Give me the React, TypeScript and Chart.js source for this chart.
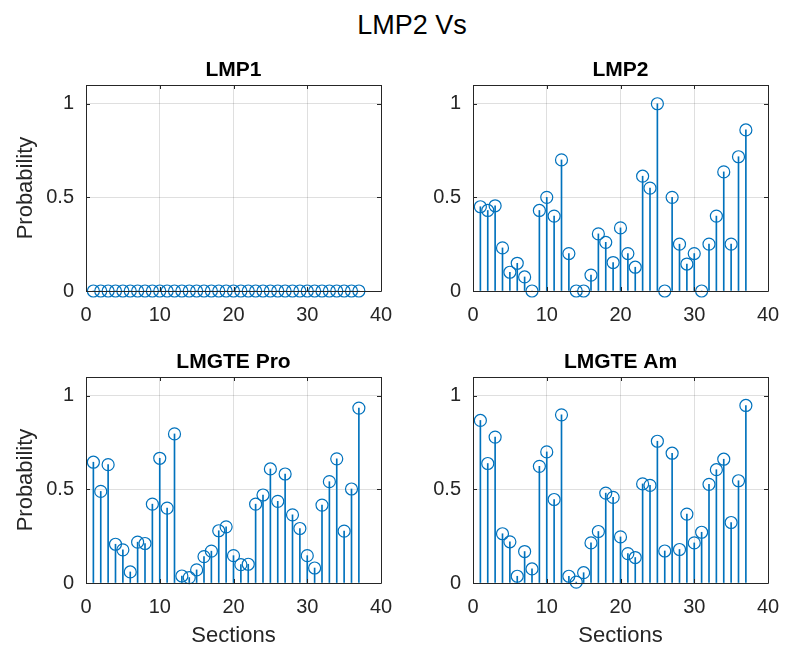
import React, { useEffect, useRef } from 'react';
import { Chart, registerables } from 'chart.js';

Chart.register(...registerables);

// ---------------- data ----------------
const sections = [1, 2, 3, 4, 5, 6, 7, 8, 9, 10, 11, 12, 13, 14, 15, 16, 17, 18, 19, 20, 21, 22, 23, 24, 25, 26, 27, 28, 29, 30, 31, 32, 33, 34, 35, 36, 37];

const lmp1 = [0, 0, 0, 0, 0, 0, 0, 0, 0, 0, 0, 0, 0, 0, 0, 0, 0, 0, 0, 0, 0, 0, 0, 0, 0, 0, 0, 0, 0, 0, 0, 0, 0, 0, 0, 0, 0];

const lmp2 = [0.45, 0.43, 0.455, 0.23, 0.10, 0.148, 0.075, 0.0, 0.43, 0.50, 0.40, 0.70, 0.20, 0.0, 0.0, 0.085, 0.305, 0.26, 0.152, 0.337, 0.20, 0.127, 0.613, 0.549, 1.0, 0.0, 0.50, 0.25, 0.144, 0.20, 0.0, 0.25, 0.40, 0.636, 0.25, 0.717, 0.86];

const lmgtePro = [0.645, 0.489, 0.632, 0.207, 0.177, 0.059, 0.218, 0.211, 0.421, 0.666, 0.40, 0.796, 0.0375, 0.029, 0.07, 0.141, 0.17, 0.279, 0.30, 0.146, 0.098, 0.10, 0.421, 0.47, 0.609, 0.436, 0.582, 0.364, 0.291, 0.146, 0.08, 0.416, 0.541, 0.663, 0.277, 0.502, 0.934];

const lmgteAm = [0.868, 0.638, 0.779, 0.263, 0.22, 0.036, 0.168, 0.075, 0.623, 0.70, 0.446, 0.898, 0.036, 0.005, 0.055, 0.214, 0.275, 0.48, 0.457, 0.246, 0.157, 0.136, 0.529, 0.521, 0.757, 0.171, 0.693, 0.179, 0.368, 0.214, 0.271, 0.527, 0.605, 0.661, 0.323, 0.546, 0.948];

const xTickValues = [0, 10, 20, 30, 40];
const yTickValues = [0, 0.5, 1];
const xRange = [0, 40];
const yRange = [0, 1.1];

const figureTitle = 'LMP2 Vs';
const xAxisLabel = 'Sections';
const yAxisLabel = 'Probability';

// ---------------- style ----------------
const STEM = '#0072BD';
const AXIS = '#262626';
const GRID = 'rgba(38,38,38,0.15)';
const FONT = '"Liberation Sans", Arial, Helvetica, sans-serif';

type Panel = {
  title: string;
  values: number[];
  box: { left: number; top: number; right: number; bottom: number };
  yLabel: boolean;
  xLabel: boolean;
};

const panels: Panel[] = [
  { title: 'LMP1', values: lmp1, box: { left: 86, top: 85, right: 381, bottom: 291 }, yLabel: true, xLabel: false },
  { title: 'LMP2', values: lmp2, box: { left: 473, top: 85, right: 768, bottom: 291 }, yLabel: false, xLabel: false },
  { title: 'LMGTE Pro', values: lmgtePro, box: { left: 86, top: 377, right: 381, bottom: 583 }, yLabel: true, xLabel: true },
  { title: 'LMGTE Am', values: lmgteAm, box: { left: 473, top: 377, right: 768, bottom: 583 }, yLabel: false, xLabel: true },
];

const TOP_PAD = 45;
const RIGHT_PAD = 24;

function PanelChart({ panel }: { panel: Panel }) {
  const ref = useRef<HTMLCanvasElement | null>(null);
  const yAxisW = panel.yLabel ? 86 : 60;
  const xAxisH = panel.xLabel ? 66 : 40;
  const boxW = panel.box.right - panel.box.left;
  const boxH = panel.box.bottom - panel.box.top;
  const cLeft = panel.box.left - yAxisW;
  const cTop = panel.box.top - TOP_PAD;
  const cW = yAxisW + boxW + RIGHT_PAD;
  const cH = TOP_PAD + boxH + xAxisH;

  useEffect(() => {
    if (!ref.current) return;
    const pts = sections.map((s, i) => ({ x: s, y: panel.values[i] }));

    const boxPlugin = {
      id: 'matlabBox',
      afterDatasetsDraw(chart: any) {
        const { ctx, chartArea: a, scales } = chart;
        ctx.save();
        ctx.strokeStyle = AXIS;
        ctx.lineWidth = 1;
        ctx.beginPath();
        ctx.rect(Math.round(a.left) + 0.5, Math.round(a.top) + 0.5, Math.round(a.right - a.left), Math.round(a.bottom - a.top));
        ctx.stroke();
        const tl = 4;
        ctx.beginPath();
        for (const v of xTickValues) {
          const px = Math.round(scales.x.getPixelForValue(v)) + 0.5;
          ctx.moveTo(px, a.bottom);
          ctx.lineTo(px, a.bottom - tl);
          ctx.moveTo(px, a.top);
          ctx.lineTo(px, a.top + tl);
        }
        for (const v of yTickValues) {
          const py = Math.round(scales.y.getPixelForValue(v)) + 0.5;
          ctx.moveTo(a.left, py);
          ctx.lineTo(a.left + tl, py);
          ctx.moveTo(a.right, py);
          ctx.lineTo(a.right - tl, py);
        }
        ctx.stroke();
        ctx.restore();
      },
      afterDraw(chart: any) {
        const { ctx, chartArea: a } = chart;
        ctx.save();
        ctx.fillStyle = '#000';
        ctx.font = 'bold 21px ' + FONT;
        ctx.textAlign = 'center';
        ctx.textBaseline = 'alphabetic';
        ctx.fillText(panel.title, (a.left + a.right) / 2, a.top - 9);
        ctx.restore();
      },
    };

    const chart = new Chart(ref.current, {
      type: 'bar',
      data: {
        datasets: [
          {
            type: 'line',
            data: pts,
            showLine: false,
            pointStyle: 'circle',
            pointRadius: 6,
            pointBorderWidth: 1.2,
            pointBorderColor: STEM,
            pointBackgroundColor: 'rgba(0,0,0,0)',
            borderColor: STEM,
            backgroundColor: 'rgba(0,0,0,0)',
            clip: false,
            order: 0,
          } as any,
          {
            type: 'bar',
            data: pts,
            backgroundColor: STEM,
            borderWidth: 0,
            barThickness: 1,
            order: 1,
          } as any,
        ],
      },
      options: {
        animation: false,
        responsive: false,
        maintainAspectRatio: false,
        devicePixelRatio: 1,
        events: [],
        layout: { padding: { left: 0, top: TOP_PAD, right: RIGHT_PAD, bottom: 0 } },
        plugins: { legend: { display: false }, tooltip: { enabled: false }, title: { display: false } },
        scales: {
          x: {
            type: 'linear',
            min: xRange[0],
            max: xRange[1],
            offset: false,
            afterBuildTicks: (s: any) => {
              s.ticks = xTickValues.map((v) => ({ value: v }));
            },
            afterFit: (s: any) => {
              s.height = xAxisH;
            },
            ticks: {
              padding: 12,
              color: AXIS,
              font: { family: FONT, size: 20 },
              maxRotation: 0,
              callback: (v: any) => String(v),
            },
            grid: { color: GRID, drawTicks: false, lineWidth: 1, offset: false },
            border: { display: false },
            title: {
              display: panel.xLabel,
              text: xAxisLabel,
              color: AXIS,
              font: { family: FONT, size: 22 },
              padding: { top: 0, bottom: 0 },
            },
          },
          y: {
            type: 'linear',
            min: yRange[0],
            max: yRange[1],
            afterBuildTicks: (s: any) => {
              s.ticks = yTickValues.map((v) => ({ value: v }));
            },
            afterFit: (s: any) => {
              s.width = yAxisW;
            },
            ticks: {
              padding: 12,
              color: AXIS,
              font: { family: FONT, size: 20 },
              callback: (v: any) => String(v),
            },
            grid: { color: GRID, drawTicks: false, lineWidth: 1 },
            border: { display: false },
            title: {
              display: panel.yLabel,
              text: yAxisLabel,
              color: AXIS,
              font: { family: FONT, size: 22 },
              padding: { top: 13, bottom: 0 },
            },
          },
        },
      } as any,
      plugins: [boxPlugin],
    });
    return () => chart.destroy();
  }, []);

  return (
    <canvas
      ref={ref}
      width={cW}
      height={cH}
      style={{ position: 'absolute', left: cLeft, top: cTop, width: cW, height: cH, display: 'block' }}
    />
  );
}

export default function App() {
  return (
    <div
      style={{
        position: 'fixed',
        left: 0,
        top: 0,
        width: 790,
        height: 659,
        background: '#fff',
        overflow: 'hidden',
      }}
    >
      <div
        style={{
          position: 'absolute',
          left: 262,
          top: 12,
          width: 300,
          textAlign: 'center',
          fontFamily: FONT,
          fontSize: 27,
          lineHeight: '27px',
          color: '#000',
          whiteSpace: 'nowrap',
        }}
      >
        {figureTitle}
      </div>
      {panels.map((p) => (
        <PanelChart key={p.title} panel={p} />
      ))}
    </div>
  );
}
